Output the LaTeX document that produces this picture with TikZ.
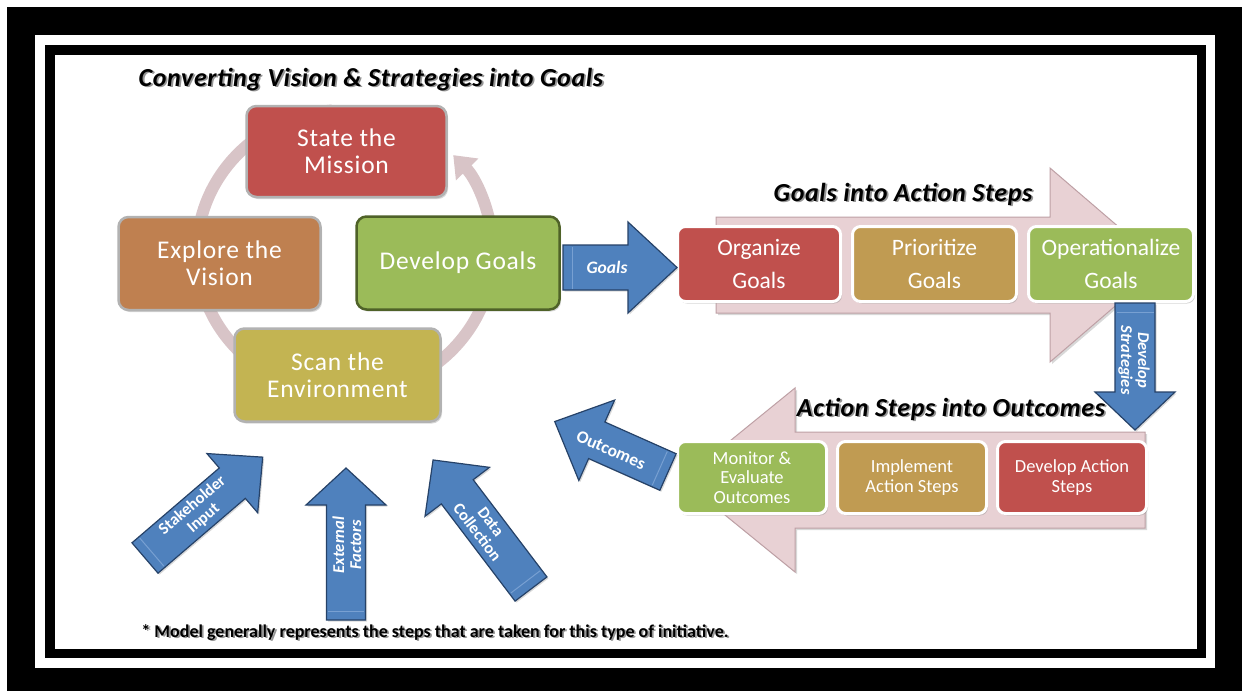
\documentclass[tikz,border=0pt]{standalone}
\usepackage{fontspec}
\setmainfont{Carlito}
\usetikzlibrary{arrows.meta,shadows,calc}
\definecolor{cred}{RGB}{192,80,77}
\definecolor{corange}{RGB}{191,128,80}
\definecolor{cgreen}{RGB}{155,187,89}
\definecolor{cdgreen}{RGB}{79,98,40}
\definecolor{colive}{RGB}{195,180,82}
\definecolor{ctan}{RGB}{192,155,82}
\definecolor{cblue}{RGB}{79,129,189}
\definecolor{cblueD}{RGB}{38,66,104}
\definecolor{cblueL}{RGB}{120,160,210}
\definecolor{cpink}{RGB}{232,209,212}
\definecolor{cpinkD}{RGB}{190,160,165}
\definecolor{cring}{RGB}{216,196,199}
\definecolor{cborder}{RGB}{178,178,178}
\definecolor{cshadow}{RGB}{150,150,150}
\newcommand{\shadowed}[1]{\leavevmode\rlap{\kern1.8pt\raisebox{-1.8pt}{\color{cshadow}#1}}#1}
\tikzset{
  ringstyle/.style={draw=cring, line width=12pt, -{Triangle[length=20pt,width=30pt]}},
  cyclebox/.style={rounded corners=10pt, draw=cborder, line width=2.5pt, text=white, align=center,
    inner sep=0pt, font=\fontsize{25.5}{27}\selectfont\addfontfeature{LetterSpace=3},
    drop shadow={opacity=0.3, shadow xshift=1.5pt, shadow yshift=-2pt}},
  rowbox/.style={rounded corners=8pt, draw=white, line width=3pt, text=white, align=center,
    inner sep=0pt, drop shadow={opacity=0.35, shadow xshift=1.5pt, shadow yshift=-2pt}},
  toptext/.style={font=\fontsize{23.5}{33}\selectfont},
  bottext/.style={font=\fontsize{18.5}{19.5}\selectfont},
  pinkarrow/.style={fill=cpink, draw=cpinkD, line width=1pt,
    drop shadow={opacity=0.3, shadow xshift=2pt, shadow yshift=-2pt}},
  barrow/.style={fill=cblue, draw=cblueD, line width=1.2pt,
    drop shadow={opacity=0.3, shadow xshift=1.5pt, shadow yshift=-1.5pt}},
  bstripe/.style={draw=cblueL, line width=1pt},
  blabel/.style={text=white, font=\bfseries\fontsize{16.5}{17}\selectfont, align=center, inner sep=0pt},
  blabeli/.style={text=white, font=\bfseries\itshape\fontsize{16.5}{17}\selectfont, align=center, inner sep=0pt},
  titletext/.style={font=\bfseries\itshape\fontsize{26}{28}\selectfont\addfontfeature{LetterSpace=2.5}, inner sep=0pt},
  foot/.style={font=\bfseries\fontsize{18}{20}\selectfont, inner sep=0pt},
}
% #1,#2 tail centre, #3 angle, #4 length, #5 shaft half width, #6 head half width, #7 head length
\newcommand{\myblockarrow}[7]{%
  \begin{scope}[shift={(#1,#2)}, rotate=#3]
    \path[barrow] (0,-#5) -- ({#4-#7},-#5) -- ({#4-#7},-#6) -- (#4,0) -- ({#4-#7},#6) -- ({#4-#7},#5) -- (0,#5) -- cycle;
    \draw[bstripe] (9,{-#5+1.5}) -- (9,{#5-1.5});
  \end{scope}}
\begin{document}
\begin{tikzpicture}[x=1pt,y=-1pt]
\useasboundingbox (0,0) rectangle (1242,691);
% frame
\fill[white] (0,0) rectangle (1242,691);
\fill[black] (7,7) rectangle (1242,691);
\fill[white] (35,35) rectangle (1215,668);
\fill[black] (45,45) rectangle (1206,658);
\fill[white] (55,55) rectangle (1197,649);

% cycle ring
\coordinate (ringstart) at (332.1,110.5);
\draw[ringstyle] (ringstart) arc[start angle=265, end angle=-43, x radius=148, y radius=142];

% cycle boxes
\node[cyclebox, fill=cred, minimum width=200pt, minimum height=91pt] (mission) at (346.5,151.5) {State the\\Mission};
\node[cyclebox, fill=corange, minimum width=202pt, minimum height=93pt] (explore) at (219.5,263.5) {Explore the\\Vision};
\node[cyclebox, fill=cgreen, draw=cdgreen, minimum width=203pt, minimum height=93pt] (devgoals) at (458,263) {Develop Goals};
\node[cyclebox, fill=colive, minimum width=206pt, minimum height=93pt] (scan) at (337.5,375) {Scan the\\Environment};

% pink arrows
\path[pinkarrow] (716,217) -- (1050,217) -- (1050,168) -- (1163,265) -- (1050,362) -- (1050,313) -- (716,313) -- cycle;
\path[pinkarrow] (1145,432) -- (795,432) -- (795,388) -- (682,480) -- (795,572) -- (795,528) -- (1145,528) -- cycle;

% titles
\node[titletext] (t1) at (371,80) {\shadowed{Converting Vision \& Strategies into Goals}};
\node[titletext] (t2) at (903,195) {\shadowed{Goals into Action Steps}};
\node[titletext] (t3) at (951,410) {\shadowed{Action Steps into Outcomes}};

% row boxes
\node[rowbox, toptext, fill=cred, minimum width=163pt, minimum height=75pt] (organize) at (759,264) {Organize\\Goals};
\node[rowbox, toptext, fill=ctan, minimum width=164pt, minimum height=75pt] (prioritize) at (934.5,264) {Prioritize\\Goals};
\node[rowbox, toptext, fill=cgreen, minimum width=165pt, minimum height=75pt] (operational) at (1111,264) {Operationalize\\Goals};
\node[rowbox, bottext, fill=cgreen, minimum width=149pt, minimum height=72pt] (monitor) at (752,477.5) {Monitor \&\\Evaluate\\Outcomes};
\node[rowbox, bottext, fill=ctan, minimum width=149pt, minimum height=72pt] (implement) at (912,477.5) {Implement\\Action Steps};
\node[rowbox, bottext, fill=cred, minimum width=149pt, minimum height=72pt] (devaction) at (1072,477.5) {Develop Action\\Steps};

% blue arrows
\myblockarrow{563}{267.5}{0}{114}{22.5}{45.5}{49}
\myblockarrow{1135}{303}{-90}{127}{20}{40}{38}
\myblockarrow{668}{472}{156}{124}{20}{44}{46}
\myblockarrow{145}{558}{40.6}{155}{20}{39}{40}
\myblockarrow{346}{620}{90}{152}{19.5}{40}{37}
\myblockarrow{531}{589}{127.2}{162}{20}{40.5}{40}

\node[blabeli, font=\bfseries\itshape\fontsize{17.5}{18}\selectfont] (lgoals) at (607,267) {Goals};
\node[blabeli, rotate=-90] (lstrat) at (1134,360) {Develop\\Strategies};
\node[blabel, rotate=-24, font=\bfseries\fontsize{17.5}{18}\selectfont] (lout) at (611,450) {Outcomes};
\node[blabel, rotate=40.6] (lstake) at (198,512) {Stakeholder\\Input};
\node[blabeli, rotate=90] (lext) at (347,545) {External\\Factors};
\node[blabel, rotate=-52.8] (ldata) at (484,527) {Data\\Collection};

% footnote
\node[foot] (note) at (435,633) {\shadowed{* Model generally represents the steps that are taken for this type of initiative.}};
\end{tikzpicture}
\end{document}
